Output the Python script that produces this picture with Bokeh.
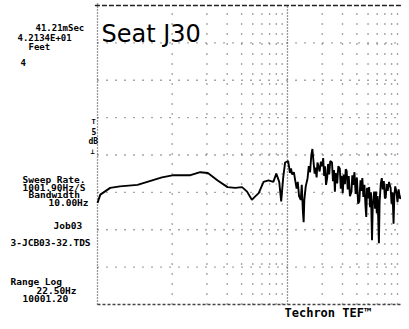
from bokeh.plotting import figure
from bokeh.models import Range1d, Label
from bokeh.embed import file_html
from bokeh.resources import INLINE

# ---- data ----
freq_hz = [22.5, 23.8, 29.0, 35.2, 50.0, 60.8, 81.5, 103, 144, 175, 204, 248, 302, 352,
           404, 446, 491, 520, 563, 620, 684, 754, 800, 848, 882, 917, 954,
           1012, 1030, 1050, 1072, 1100, 1136, 1170, 1200, 1228, 1260, 1304, 1330, 1360,
           1381, 1400, 1440, 1494, 1530, 1570, 1610, 1645, 1680, 1720, 1746, 1790, 1820,
           1850, 1900, 1950, 2000, 2040, 2080, 2120, 2160, 2209, 2250, 2300, 2350, 2433,
           2480, 2530, 2578, 2620, 2700, 2760, 2844, 2900, 2950, 3015, 3080, 3150, 3200,
           3260, 3330, 3400, 3480, 3590, 3650, 3711, 3811, 3900, 4000, 4100, 4199, 4300,
           4380, 4459, 4550, 4650, 4750, 4822, 4900, 5000, 5108, 5200, 5300, 5411, 5500,
           5650, 5750, 5850, 5950, 6050, 6210, 6300, 6450, 6579, 6700, 6850, 7000, 7115,
           7250, 7400, 7600, 7843, 8000, 8150, 8321, 8450, 8600, 8813, 9000, 9200, 9450,
           9731, 10000]
level_db = [-26.4, -25.3, -24.4, -24.2, -24.0, -23.6, -23.0, -22.7, -22.7, -22.3, -22.4, -23.4, -24.3, -24.4,
            -24.3, -24.9, -26.0, -25.6, -25.1, -23.6, -23.4, -23.6, -22.5, -23.6, -26.2, -23.1, -21.0,
            -20.8, -21.5, -22.4, -21.8, -22.6, -22.3, -23.5, -24.5, -23.6, -25.5, -26.0, -24.0, -27.5,
            -29.0, -26.0, -24.2, -23.1, -21.5, -22.3, -20.0, -19.2, -20.8, -22.5, -21.7, -23.0, -21.0,
            -21.4, -22.2, -20.9, -21.5, -20.4, -22.8, -21.5, -24.0, -23.1, -21.2, -22.6, -20.8, -21.0,
            -23.5, -22.0, -24.9, -22.4, -23.8, -21.5, -21.8, -24.5, -22.8, -25.1, -22.6, -23.9, -21.9,
            -22.1, -24.6, -22.8, -25.5, -24.9, -22.7, -24.0, -22.3, -25.2, -23.0, -26.5, -26.2, -23.4,
            -24.8, -23.1, -25.6, -24.0, -26.8, -28.3, -24.4, -25.8, -24.3, -27.0, -25.0, -31.4, -26.5,
            -24.9, -27.2, -24.9, -27.8, -25.5, -31.8, -26.2, -23.8, -23.1, -24.6, -23.5, -25.8, -25.7,
            -23.9, -24.8, -23.6, -24.4, -26.5, -25.0, -29.2, -25.5, -24.2, -24.9, -26.3, -24.6, -25.8,
            -25.7, -24.8]

freq_min, freq_max = 22.5, 9750
level_min, level_max = -40, 0
freq_grid = [100, 200, 300, 400, 500, 600, 700, 800, 900,
             2000, 3000, 4000, 5000, 6000, 7000, 8000, 9000]
level_grid = [-5, -10, -15, -20, -25, -30, -35]

title_text = "Seat J30"
info_top = ["41.21mSec", "4.2134E+01", "Feet", "4"]
info_mid = ["Sweep Rate.", "1001.90Hz/S", "Bandwidth", "10.00Hz", "Job03", "3-JCB03-32.TDS"]
info_bot = ["Range Log", "22.50Hz", "10001.20"]
brand = "Techron TEF\u2122"

# ---- figure: the frame covers the whole canvas; the chart area starts at 97 px ----
W, H = 401, 321
left_px = 97
dec_px = (W - left_px) / 2.637          # pixels per decade
x_lo = freq_min * 10 ** (-left_px / dec_px)
top_px, bot_px = 5, 304
px_per_db = (bot_px - top_px) / 40.0
y_hi = level_max + top_px / px_per_db
y_lo = level_min - (H - bot_px) / px_per_db

p = figure(width=W, height=H, output_backend="svg", toolbar_location=None,
           x_axis_type="log", x_axis_location=None, y_axis_location=None,
           x_range=Range1d(x_lo, freq_max), y_range=Range1d(y_lo, y_hi),
           min_border_left=0, min_border_right=0, min_border_top=0, min_border_bottom=0)
p.outline_line_color = None
p.xgrid.visible = False
p.ygrid.visible = False
p.background_fill_color = "white"
p.border_fill_color = "white"

# dotted grid, restricted to the chart area
p.segment(x0=freq_grid, x1=freq_grid, y0=[level_min] * len(freq_grid), y1=[level_max] * len(freq_grid),
          line_color="#505050", line_width=1.4, line_dash="1 9")
p.segment(x0=[freq_min] * len(level_grid), x1=[freq_max * 1.1] * len(level_grid), y0=level_grid, y1=level_grid,
          line_color="#505050", line_width=1.4, line_dash="1 8")
# 1 kHz line and frame
p.segment(x0=[1000], x1=[1000], y0=[level_min], y1=[level_max], line_color="#333333", line_width=1.3, line_dash="1 2")
p.segment(x0=[freq_min], x1=[freq_min], y0=[level_min], y1=[level_max + 0.3], line_color="#333333", line_width=1.3, line_dash="1 2")
p.segment(x0=[freq_min * 0.95], x1=[freq_max * 1.1], y0=[level_max], y1=[level_max], line_color="#222222", line_width=1.4, line_dash="5 2")
p.segment(x0=[freq_min], x1=[freq_max * 1.1], y0=[level_min], y1=[level_min], line_color="#444444", line_width=1.3, line_dash="3 2")

p.line(freq_hz, level_db, line_color="black", line_width=1.9)

# ---- texts ----
mono = "DejaVu Sans Mono"
def lab(txt, ix, iy, size="10px", font=mono, bold=True, baseline="middle"):
    p.add_layout(Label(x=ix, y=H - iy, x_units="screen", y_units="screen", text=txt,
                       text_font=font, text_font_size=size,
                       text_font_style="bold" if bold else "normal",
                       text_baseline=baseline, text_color="black"))

lab(title_text, 101, 33, size="24px", font="DejaVu Sans", bold=False, baseline="alphabetic")

tops = [(35, 27), (17, 37), (28, 46), (20, 62)]
for t, (ix, iy) in zip(info_top, tops):
    lab(t, ix, iy, size="9px")
mids = [(22, 179), (22, 187), (28, 194), (48, 202), (53, 225), (10, 242)]
for t, (ix, iy) in zip(info_mid, mids):
    lab(t, ix, iy, size="9.5px")
bots = [(10, 281), (36, 290), (22, 298)]
for t, (ix, iy) in zip(info_bot, bots):
    lab(t, ix, iy, size="9.5px")

lab("T", 91, 121, size="7px")
lab("5", 91, 131, size="8px")
lab("dB", 88, 141, size="8px")
lab("\u22a5", 90, 151, size="7px")

lab(brand, 284, 312, size="12px", baseline="middle")

open("out.html", "w").write(file_html(p, INLINE))
